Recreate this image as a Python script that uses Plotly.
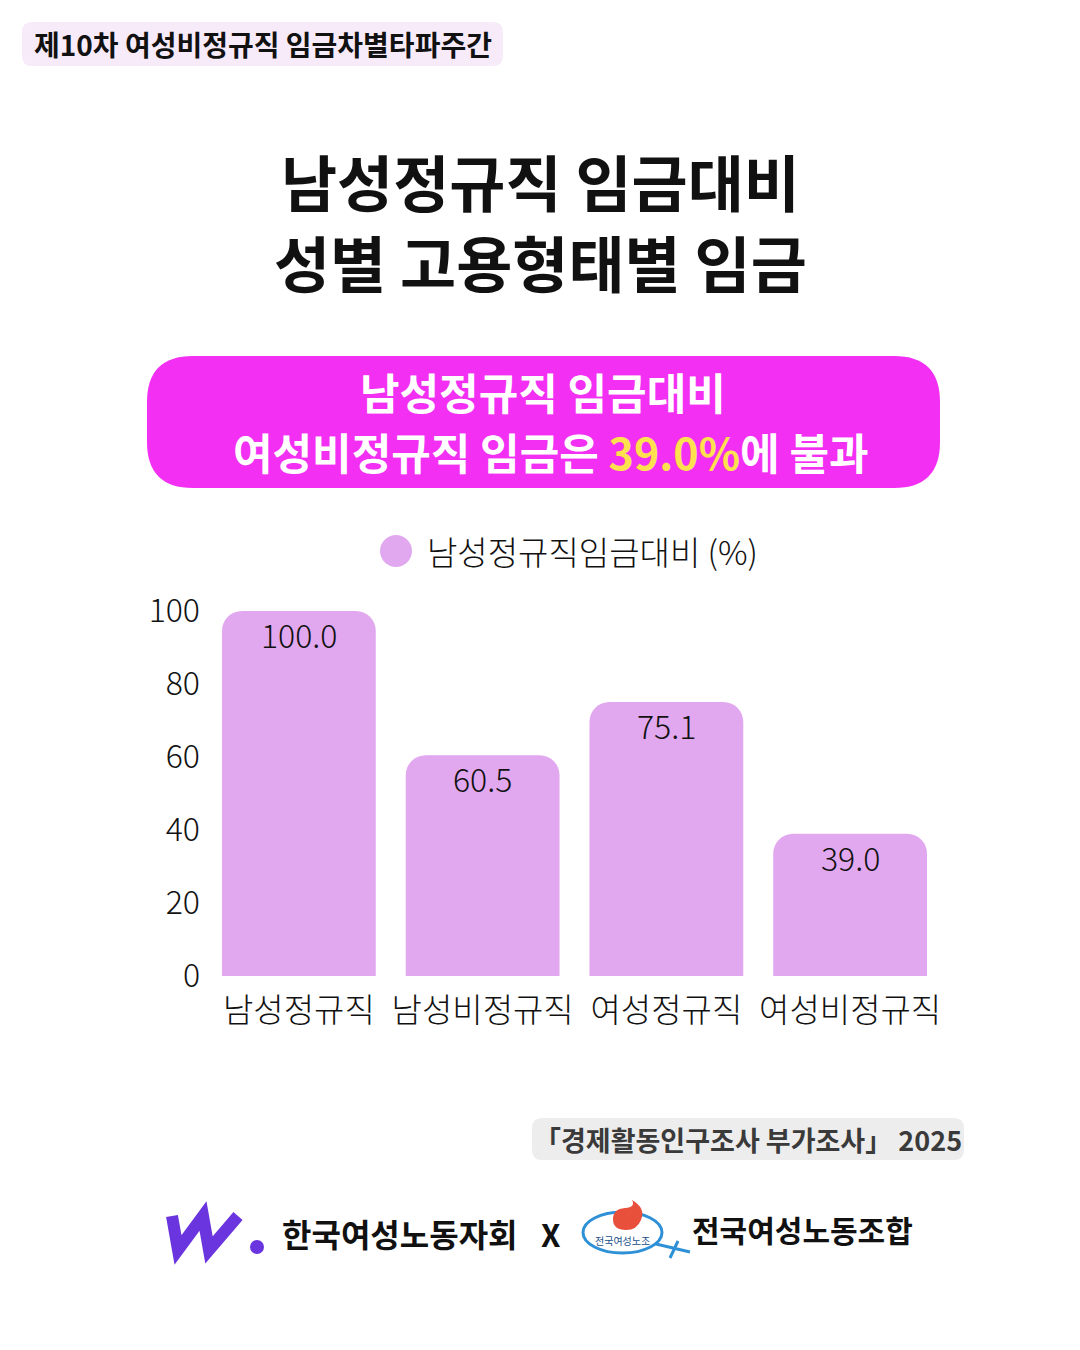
import plotly.graph_objects as go

# ---------------- data ----------------
categories = ["남성정규직", "남성비정규직", "여성정규직", "여성비정규직"]
values = [100.0, 60.5, 75.1, 39.0]
series_name = "남성정규직임금대비 (%)"
y_ticks = [0, 20, 40, 60, 80, 100]

tag_text = "제10차 여성비정규직 임금차별타파주간"
title_lines = ["남성정규직 임금대비", "성별 고용형태별 임금"]
highlight_line1 = "남성정규직 임금대비"
highlight_line2_pre = "여성비정규직 임금은 "
highlight_value = "39.0%"
highlight_line2_post = "에 불과"
source_text = "「경제활동인구조사 부가조사」 2025"
org1 = "한국여성노동자회"
org2 = "전국여성노동조합"
logo_small_text = "전국여성노조"

W, H = 1080, 1350
FONT = "Noto Sans CJK KR"
BAR_COLOR = "#E2A8EF"


def X(px):
    return px / W


def Y(py):
    return 1 - py / H


def rrect(x0, y0, x1, y1, r):
    pts = [
        f"M {X(x0 + r)},{Y(y0)}",
        f"L {X(x1 - r)},{Y(y0)}",
        f"Q {X(x1)},{Y(y0)} {X(x1)},{Y(y0 + r)}",
        f"L {X(x1)},{Y(y1 - r)}",
        f"Q {X(x1)},{Y(y1)} {X(x1 - r)},{Y(y1)}",
        f"L {X(x0 + r)},{Y(y1)}",
        f"Q {X(x0)},{Y(y1)} {X(x0)},{Y(y1 - r)}",
        f"L {X(x0)},{Y(y0 + r)}",
        f"Q {X(x0)},{Y(y0)} {X(x0 + r)},{Y(y0)}",
        "Z",
    ]
    return " ".join(pts)


def path_px(cmds):
    out = []
    for c in cmds:
        if isinstance(c, str):
            out.append(c)
        else:
            out.append(f"{X(c[0])},{Y(c[1])}")
    return " ".join(out)


def txt(x, y, text, size, color="#111111", weight=400, xanchor="center"):
    return dict(x=X(x), y=Y(y), xref="paper", yref="paper", xanchor=xanchor, yanchor="middle",
                text=text, showarrow=False,
                font=dict(family=FONT, size=size, color=color, weight=weight))


fig = go.Figure()
fig.add_trace(
    go.Bar(
        x=categories,
        y=values,
        name=series_name,
        marker=dict(color=BAR_COLOR, line=dict(width=0)),
        showlegend=False,
        hoverinfo="skip",
    )
)

shapes = []
annotations = []

# bar value labels (data coordinates)
for c, v in zip(categories, values):
    annotations.append(dict(x=c, y=v, xref="x", yref="y", xanchor="center", yanchor="middle",
                            yshift=-23, text=f"{v:.1f}", showarrow=False,
                            font=dict(family=FONT, size=32, color="#111111", weight=300)))

# top tag
shapes.append(dict(type="path", xref="paper", yref="paper",
                   path=rrect(22, 22, 503, 66, 10),
                   fillcolor="#F7EBFA", line=dict(width=0), layer="below"))
annotations.append(txt(263, 44, f"<b>{tag_text}</b>", 28, weight=800))

# title
for i, line in enumerate(title_lines):
    annotations.append(txt(540, 181 + 80 * i, f"<b>{line}</b>", 61, weight=900))

# highlight box
shapes.append(dict(type="path", xref="paper", yref="paper",
                   path=rrect(147, 356, 940, 488, 46),
                   fillcolor="#F22FF2", line=dict(width=0), layer="below"))
annotations.append(txt(543, 391, f"<b>{highlight_line1}</b>", 43, color="white", weight=800))
annotations.append(txt(551, 451,
                       (f"<b>{highlight_line2_pre}"
                        f"<span style='color:#FFE14F'>{highlight_value}</span>"
                        f"{highlight_line2_post}</b>"),
                       43, color="white", weight=800))

# legend (circle + label)
shapes.append(dict(type="circle", xref="paper", yref="paper",
                   x0=X(380), x1=X(412), y0=Y(535), y1=Y(567),
                   fillcolor=BAR_COLOR, line=dict(width=0)))
annotations.append(txt(425, 551, series_name, 33, weight=300, xanchor="left"))

# source box
shapes.append(dict(type="path", xref="paper", yref="paper",
                   path=rrect(532, 1118, 964, 1160, 10),
                   fillcolor="#EDEDED", line=dict(width=0), layer="below"))
annotations.append(txt(748, 1139, f"<b>{source_text}</b>", 27, color="#3A3A3A", weight=700))

# logo 1: stylised "W."
shapes.append(dict(type="path", xref="paper", yref="paper",
                   path=path_px(["M", (172, 1216), "L", (178, 1250), "L", (203, 1216),
                                 "L", (209, 1250), "L", (238, 1216)]),
                   line=dict(color="#6A35DE", width=12)))
shapes.append(dict(type="circle", xref="paper", yref="paper",
                   x0=X(250), x1=X(264), y0=Y(1240), y1=Y(1254),
                   fillcolor="#6A35DE", line=dict(width=0)))
annotations.append(txt(280, 1233, f"<b>{org1}</b>", 32, weight=700, xanchor="left"))
annotations.append(txt(550, 1233, "<b>X</b>", 31, weight=700))

# logo 2: ellipse with flame and female symbol
shapes.append(dict(type="path", xref="paper", yref="paper",
                   path=path_px(["M", (656, 1244), "L", (690, 1252),
                                 "M", (670, 1258), "L", (678, 1241)]),
                   line=dict(color="#2E90D6", width=3)))
shapes.append(dict(type="circle", xref="paper", yref="paper",
                   x0=X(583), x1=X(662), y0=Y(1212), y1=Y(1253),
                   fillcolor="white", line=dict(color="#2E90D6", width=3)))
shapes.append(dict(type="path", xref="paper", yref="paper",
                   path=path_px(["M", (613, 1219), "Q", (613, 1209), (625, 1208),
                                 "Q", (636, 1207), (632, 1200),
                                 "Q", (646, 1208), (641, 1220),
                                 "Q", (637, 1230), (626, 1230),
                                 "Q", (613, 1230), (613, 1219), "Z"]),
                   fillcolor="#E8503C", line=dict(width=0)))
annotations.append(txt(622, 1240, logo_small_text, 10, color="#1B4F8A"))
annotations.append(txt(690, 1229, f"<b>{org2}</b>", 30, weight=700, xanchor="left"))

fig.update_layout(
    width=W, height=H,
    margin=dict(l=0, r=0, t=0, b=0),
    paper_bgcolor="white", plot_bgcolor="white",
    showlegend=False,
    bargap=0.163,
    barcornerradius=20,
    shapes=shapes,
    annotations=annotations,
    font=dict(family=FONT, color="#111111"),
    xaxis=dict(domain=[X(207), X(942)], automargin=False, showgrid=False, zeroline=False,
               showline=False, ticks="", ticklabelstandoff=12,
               tickfont=dict(family=FONT, size=33, color="#111111", weight=300),
               fixedrange=True),
    yaxis=dict(domain=[Y(976), Y(611)], range=[0, 100], automargin=False, showgrid=False,
               zeroline=False, showline=False, ticks="", tickvals=y_ticks,
               tickfont=dict(family=FONT, size=32, color="#111111", weight=300),
               ticklabelstandoff=6, fixedrange=True),
)

fig.write_html("out.html", config={"displayModeBar": False},
               post_script="document.body.style.margin='0';document.body.style.overflow='hidden';")
